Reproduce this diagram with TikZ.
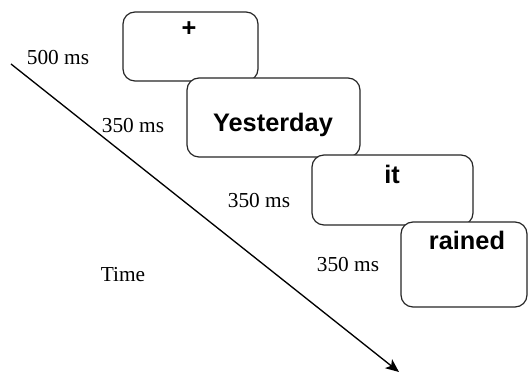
\documentclass[tikz,border=0pt]{standalone}
\usepackage{fontspec}
\setmainfont{Liberation Serif}
\newfontfamily\wordfont{Liberation Sans}
\usetikzlibrary{arrows.meta}

\begin{document}
\begin{tikzpicture}[x=0.75pt,y=-0.75pt,
    stimbox/.style={draw=black!85,line width=0.9pt,fill=white,rounded corners=9pt},
    word/.style={font=\wordfont\fontsize{19}{22}\selectfont\bfseries},
    dur/.style={font=\fontsize{16}{19}\selectfont}]
  \useasboundingbox (0,0) rectangle (529,373);
  % time axis
  \coordinate (t0) at (11,64);
  \coordinate (t1) at (399,372);
  \draw[line width=1pt,-{Stealth[length=10pt,width=8.5pt,inset=2.5pt]}] (t0) -- (t1);
  \node[dur] (time) at (123,275) {Time};
  % the four frames, later ones lie on top
  \foreach \i/\xa/\ya/\xb/\yb/\wx/\wy/\w in {1/123/12/258/81/189/29/+,
      2/187/78/360/157/273/125/Yesterday,
      3/312/155/473/225/392/174/it,
      4/401/222/527/307/467/240/rained}{
    \draw[stimbox] (\xa,\ya) rectangle (\xb,\yb);
    \node[word] (w\i) at (\wx,\wy) {\w};}
  \node[dur] (d1) at (58,58) {500 ms};
  \node[dur] (d2) at (133,126) {350 ms};
  \node[dur] (d3) at (259,201) {350 ms};
  \node[dur] (d4) at (348,265) {350 ms};
\end{tikzpicture}
\end{document}
